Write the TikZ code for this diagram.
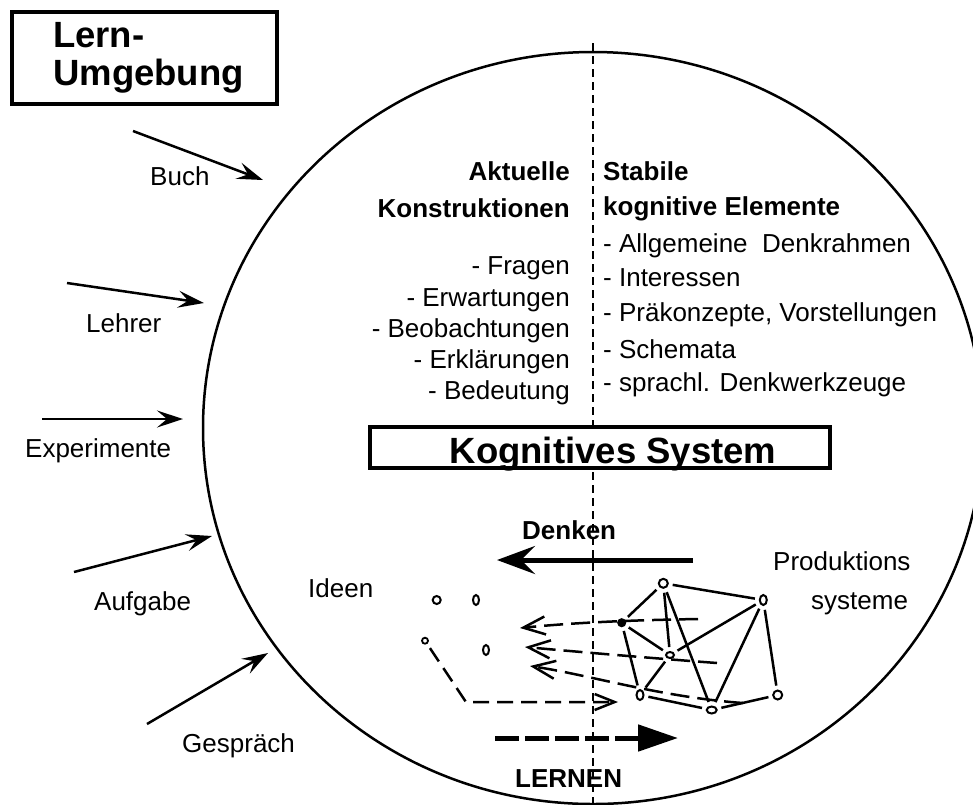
\documentclass[tikz,border=0pt]{standalone}
\usepackage{fontspec}
\setmainfont{Liberation Sans}
\usetikzlibrary{arrows.meta,shapes.geometric}
\begin{document}
\begin{tikzpicture}[x=1pt,y=-1pt,
  txt/.style={font=\fontsize{26}{30}\selectfont, inner sep=0pt},
  hd/.style={font=\fontsize{26}{30}\selectfont\bfseries, inner sep=0pt},
  big/.style={font=\fontsize{36.5}{40}\selectfont\bfseries, inner sep=0pt},
  frame/.style={draw, line width=4pt, fill=white, inner sep=0pt},
  inarrow/.style={line width=2.5pt, -{Stealth[length=26pt,width=17pt,inset=10pt]}},
  netnode/.style={draw, ellipse, line width=2pt, inner sep=0pt, fill=white},
  netedge/.style={line width=2.5pt, shorten <=4pt, shorten >=4pt},
  dasharrow/.style={line width=2.5pt, dash pattern=on 19pt off 8pt, -{Straight Barb[length=22pt,width=18pt]}},
  divider/.style={line width=2pt, dash pattern=on 8pt off 5pt}
]
\fill[white] (0,0) rectangle (973,804);
\useasboundingbox (0,0) rectangle (973,804);
\clip (0,0) rectangle (973,804);

% big circle and divider
\node[draw, ellipse, line width=2.5pt, minimum width=780pt, minimum height=752pt, inner sep=0pt] (sys) at (593,428) {};
\coordinate (vtop) at (593,43);
\coordinate (vbot) at (593,810);
\draw[divider] (vtop) -- (vbot);

% Lern-Umgebung
\node[frame, minimum width=265pt, minimum height=92pt] (lubox) at (144.5,58) {};
\node[big, anchor=base west] (lu1) at (53,47) {Lern-};
\node[big, anchor=base west] (lu2) at (53,85) {Umgebung};

% environment inputs
\coordinate (bs) at (133,131); \coordinate (be) at (263,180);
\coordinate (ls) at (67,283);  \coordinate (le) at (204,303);
\coordinate (es) at (42,419);  \coordinate (ee) at (183,419);
\coordinate (as) at (74,572);  \coordinate (ae) at (212,536);
\coordinate (gs) at (147,724); \coordinate (ge) at (268,653);
\draw[inarrow] (bs) -- (be);
\draw[inarrow] (ls) -- (le);
\draw[inarrow] (es) -- (ee);
\draw[inarrow] (as) -- (ae);
\draw[inarrow] (gs) -- (ge);
\node[txt, anchor=base west] (tbuch) at (150,185) {Buch};
\node[txt, anchor=base west] (tlehrer) at (86,332) {Lehrer};
\node[txt, anchor=base west] (texp) at (25,457) {Experimente};
\node[txt, anchor=base west] (tauf) at (94,610) {Aufgabe};
\node[txt, anchor=base west] (tgesp) at (182,752) {Gespräch};

% left column
\node[hd, anchor=base east] (a1) at (570,180) {Aktuelle};
\node[hd, anchor=base east] (a2) at (570,217) {Konstruktionen};
\node[txt, anchor=base east] (a3) at (570,274) {- Fragen};
\node[txt, anchor=base east] (a4) at (570,306) {- Erwartungen};
\node[txt, anchor=base east] (a5) at (570,337) {- Beobachtungen};
\node[txt, anchor=base east] (a6) at (570,368) {- Erklärungen};
\node[txt, anchor=base east] (a7) at (570,399) {- Bedeutung};

% right column
\node[hd, anchor=base west] (s1) at (603,180) {Stabile};
\node[hd, anchor=base west] (s2) at (603,215) {kognitive Elemente};
\node[txt, anchor=base west] (s3) at (603,252) {- Allgemeine\ \ Denkrahmen};
\node[txt, anchor=base west] (s4) at (603,286) {- Interessen};
\node[txt, anchor=base west] (s5) at (603,321) {- Präkonzepte, Vorstellungen};
\node[txt, anchor=base west] (s6) at (603,358) {- Schemata};
\node[txt, anchor=base west] (s7) at (603,391) {- sprachl. Denkwerkzeuge};

% Kognitives System
\node[frame, minimum width=460pt, minimum height=41pt] (ksbox) at (600,447.5) {};
\node[big, anchor=base] (kstext) at (613,463) {Kognitives System};

% Denken
\node[hd, anchor=base west] (denk) at (522,539) {Denken};
\coordinate (ds) at (693,560); \coordinate (de) at (497,560);
\draw[line width=5pt, -{Stealth[length=38pt,width=28pt,inset=14pt]}] (ds) -- (de);

\node[txt, anchor=base west] (prod1) at (773,570) {Produktions};
\node[txt, anchor=base west] (prod2) at (811,609) {systeme};
\node[txt, anchor=base west] (ideen) at (308,597) {Ideen};

% ideas
\node[netnode, minimum width=8pt, minimum height=8pt] (i1) at (436.7,600) {};
\node[netnode, minimum width=6pt, minimum height=10pt] (i2) at (476,600) {};
\node[netnode, minimum width=6pt, minimum height=6pt, line width=1.8pt] (i3) at (425,640.7) {};
\node[netnode, minimum width=6pt, minimum height=10pt] (i4) at (486,650) {};

% production network
\node[netnode, minimum width=9pt, minimum height=9pt] (n1) at (663.3,583.3) {};
\node[netnode, minimum width=7pt, minimum height=10pt] (n2) at (763.3,600) {};
\node[netnode, minimum width=7pt, minimum height=7pt, fill=black] (n3) at (621.7,622.7) {};
\node[netnode, minimum width=8pt, minimum height=6pt] (n4) at (670,655) {};
\node[netnode, minimum width=7pt, minimum height=10pt] (n5) at (640,695) {};
\node[netnode, minimum width=10pt, minimum height=7pt] (n6) at (711.7,710) {};
\node[netnode, minimum width=9pt, minimum height=9pt] (n7) at (777.7,695) {};
\draw[netedge] (n1) -- (n2);
\draw[netedge] (n1) -- (n3);
\draw[netedge] (n1) -- (n4);
\draw[netedge] (n1) -- (n6);
\draw[netedge] (n3) -- (n4);
\draw[netedge] (n3) -- (n5);
\draw[netedge] (n4) -- (n5);
\draw[netedge] (n2) -- (n4);
\draw[netedge] (n2) -- (n6);
\draw[netedge] (n2) -- (n7);
\draw[netedge] (n5) -- (n6);
\draw[netedge] (n6) -- (n7);

% thinking: dashed arrows from network to ideas
\coordinate (d1s) at (698,619); \coordinate (d1e) at (520,628);
\coordinate (d2s) at (717,663); \coordinate (d2e) at (525,647);
\coordinate (d3s) at (743,703); \coordinate (d3e) at (530,666);
\draw[dasharrow] (d1s) .. controls (640,620) and (580,622) .. (d1e);
\draw[dasharrow] (d2s) .. controls (650,658) and (580,652) .. (d2e);
\draw[dasharrow] (d3s) .. controls (660,697) and (590,675) .. (d3e);

% learning path from ideas
\coordinate (ibend) at (466,702); \coordinate (iend) at (618,702);
\draw[line width=2.5pt, dash pattern=on 16pt off 8pt, shorten <=5pt, -{Straight Barb[length=20pt,width=16pt]}] (i3) -- (ibend) -- (iend);

% LERNEN
\coordinate (lrs) at (495,738); \coordinate (lre) at (678,738);
\draw[line width=5pt, dash pattern=on 24pt off 6pt, -{Triangle[length=40pt,width=26pt]}] (lrs) -- (lre);
\node[hd, anchor=base west] (lern) at (515,787) {LERNEN};

% divider visible over Denken/LERNEN texts
\coordinate (vmid) at (593,472);
\draw[divider] (vmid) -- (vbot);
\end{tikzpicture}
\end{document}
